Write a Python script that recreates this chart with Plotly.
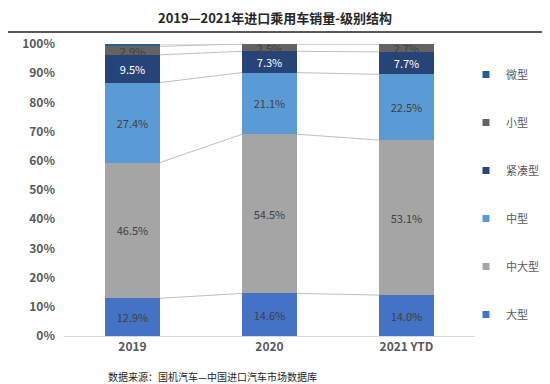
import plotly.graph_objects as go

categories = ["2019", "2020", "2021 YTD"]
series_names = ["大型", "中大型", "中型", "紧凑型", "小型", "微型"]
values = {
    "大型": [12.9, 14.6, 14.0],
    "中大型": [46.5, 54.5, 53.1],
    "中型": [27.4, 21.1, 22.5],
    "紧凑型": [9.5, 7.3, 7.7],
    "小型": [2.9, 2.5, 2.7],
    "微型": [0.8, 0.0, 0.0],
}
colors = {
    "大型": "#4472C4",
    "中大型": "#A5A5A5",
    "中型": "#5B9BD5",
    "紧凑型": "#264478",
    "小型": "#636363",
    "微型": "#255E91",
}
text_colors = {
    "大型": "#404040",
    "中大型": "#404040",
    "中型": "#404040",
    "紧凑型": "#FFFFFF",
    "小型": "#404040",
    "微型": "#404040",
}
yticks = [0, 10, 20, 30, 40, 50, 60, 70, 80, 90, 100]
ytick_labels = [f"{v}%" for v in yticks]

FONT = "Noto Sans CJK SC"
bar_w = 0.4
xs = list(range(len(categories)))

# page body has an 8px margin; figure is sized/offset to compensate
W, H = 542, 376
ML, MR, MT, MB = 56, 75, 36, 48
PW, PH = W - ML - MR, H - MT - MB

fig = go.Figure()

cum = [0.0] * len(categories)
for name in series_names:
    cum = [c + v for c, v in zip(cum, values[name])]
    lx, ly = [], []
    for i in range(len(categories) - 1):
        lx += [xs[i] + bar_w / 2, xs[i + 1] - bar_w / 2, None]
        ly += [min(cum[i], 100), min(cum[i + 1], 100), None]
    fig.add_trace(go.Scatter(x=lx, y=ly, mode="lines",
                             line=dict(color="#BFBFBF", width=1),
                             showlegend=False, hoverinfo="skip"))

n = len(series_names)
for k, name in enumerate(series_names):
    vals = values[name]
    show_text = name != "微型"
    fig.add_trace(go.Bar(
        x=xs, y=vals, name=name, width=bar_w,
        marker=dict(color=colors[name], line=dict(width=0)),
        text=[f"{v:.1f}%" for v in vals] if show_text else None,
        textposition="inside" if show_text else "none",
        insidetextanchor="middle",
        textangle=0,
        constraintext="none",
        textfont=dict(color=text_colors[name], size=11, family=FONT),
        showlegend=False,
    ))
    # legend proxy with small square marker
    fig.add_trace(go.Scatter(
        x=[None], y=[None], mode="markers", name=name,
        marker=dict(symbol="square", size=7, color=colors[name]),
        legendgroup=name, legendrank=n - k, showlegend=True,
    ))

fig.update_layout(
    barmode="stack",
    width=W, height=H,
    margin=dict(l=ML, r=MR, t=MT, b=MB, autoexpand=False),
    paper_bgcolor="white", plot_bgcolor="white",
    font=dict(family=FONT, color="#595959"),
    uniformtext=dict(minsize=11, mode="show"),
    showlegend=True,
    legend=dict(
        traceorder="grouped",
        tracegroupgap=29,
        x=(458 - ML) / PW, xanchor="left", y=1 - 16 / PH, yanchor="top",
        font=dict(size=11, color="#595959", family=FONT),
        itemwidth=30,
        bgcolor="rgba(0,0,0,0)",
    ),
    xaxis=dict(
        tickmode="array", tickvals=xs, ticktext=categories,
        range=[-0.5, 2.5],
        showline=True, linecolor="#D9D9D9", linewidth=1,
        showgrid=False, zeroline=False, ticks="",
        tickfont=dict(size=12, color="#595959", family=FONT, weight="bold"),
    ),
    yaxis=dict(
        tickmode="array", tickvals=yticks, ticktext=ytick_labels,
        range=[0, 100],
        showgrid=False, zeroline=False, showline=False, ticks="",
        tickfont=dict(size=12, color="#595959", family=FONT, weight="bold"),
        ticklabelstandoff=8,
    ),
    title=dict(
        text="2019—2021年进口乘用车销量-级别结构",
        x=(275 - 8) / W, xref="container", xanchor="center",
        y=1 - 10 / H, yref="container", yanchor="middle",
        font=dict(size=13, color="#262626", family=FONT, weight="bold"),
    ),
    shapes=[dict(type="line", xref="paper", yref="paper",
                 x0=-ML / PW, x1=1 + MR / PW, y0=1 + 12 / PH, y1=1 + 12 / PH,
                 line=dict(color="#595959", width=2))],
    annotations=[dict(
        text="数据来源：国机汽车—中国进口汽车市场数据库",
        xref="paper", yref="paper", x=(98 - ML) / PW, xanchor="left",
        y=-(368 - (H - MB)) / PH, yanchor="middle", showarrow=False,
        font=dict(size=10, color="#262626", family=FONT),
    )],
)

fig.write_html("out.html")
